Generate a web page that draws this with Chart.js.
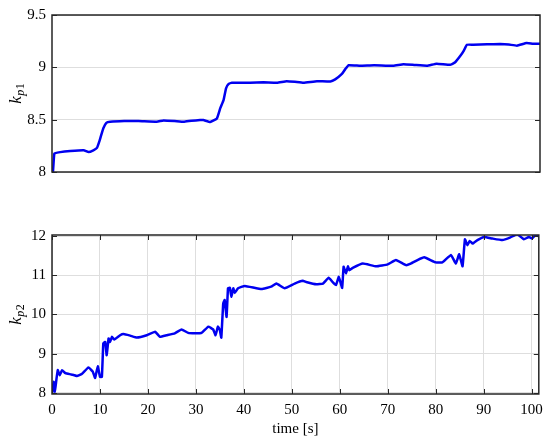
<!DOCTYPE html>
<html>
<head>
<meta charset="utf-8">
<script src="https://cdn.jsdelivr.net/npm/chart.js@4/dist/chart.umd.min.js"></script>
<style>
html, body { margin: 0; padding: 0; background: #fff; }
#wrap { position: relative; width: 550px; height: 441px; }
#topChart { position: absolute; left: 0; top: 0; }
#bottomChart { position: absolute; left: 0; top: 220px; }
</style>
</head>
<body>
<div id="wrap">
  <canvas id="topChart" width="550" height="190"></canvas>
  <canvas id="bottomChart" width="550" height="221"></canvas>
</div>
<script>
// top panel: k_p1
const t1 = [0, 0.2, 0.5, 1.7, 3.8, 6.6, 7.6, 8.6, 9.35, 9.9, 10.2, 10.7, 11.3, 12.1, 15, 18, 21.8, 23.2, 25.5, 27.4, 29, 30.8, 31.5, 32.9, 34.3, 35, 35.7, 36.2, 36.7, 37.4, 41.2, 44, 46.8, 48.8, 50.5, 52.3, 55.1, 57.9, 58.9, 60.3, 61, 61.7, 64.1, 67, 71, 73.1, 75.5, 78, 80, 82.8, 83.8, 84.9, 85.6, 86.3, 87.6, 90.5, 93.2, 95, 96.7, 98.7, 100, 101.5];
const kp1 = [8.0, 8.0, 8.177, 8.19, 8.2, 8.207, 8.19, 8.207, 8.23, 8.3, 8.347, 8.42, 8.47, 8.48, 8.487, 8.487, 8.48, 8.493, 8.487, 8.48, 8.49, 8.496, 8.496, 8.478, 8.512, 8.61, 8.69, 8.8, 8.84, 8.853, 8.853, 8.857, 8.853, 8.868, 8.862, 8.853, 8.868, 8.865, 8.885, 8.937, 8.983, 9.02, 9.015, 9.02, 9.015, 9.03, 9.022, 9.015, 9.035, 9.024, 9.046, 9.108, 9.155, 9.216, 9.216, 9.22, 9.222, 9.218, 9.207, 9.232, 9.226, 9.225];

// bottom panel: k_p2
const t2 = [0, 0.35, 0.6, 0.9, 1.2, 1.6, 2.1, 2.8, 4, 5.2, 6.2, 7.6, 8.5, 9, 9.55, 10, 10.4, 10.7, 11.1, 11.4, 11.8, 12.1, 12.5, 12.95, 14.2, 14.9, 16.3, 17.7, 19.75, 21.5, 22.5, 23.9, 25.6, 27, 28.4, 29.8, 31.2, 32.6, 33.6, 34.1, 34.6, 35, 35.3, 35.7, 36, 36.4, 36.7, 37.1, 37.4, 37.8, 38.1, 38.8, 40.2, 43.7, 45.7, 46.8, 48.5, 50.6, 52.3, 53, 55.1, 56.5, 57.7, 58.5, 59.2, 59.8, 60.5, 60.8, 61.3, 61.7, 62, 62.7, 64.8, 67.6, 70, 71.7, 73.8, 74.8, 76.2, 77.6, 80, 81.4, 83.2, 84.2, 84.9, 85.6, 86.1, 86.6, 87.1, 87.7, 88.7, 90.1, 91.8, 93.9, 95.6, 97, 98.4, 99.4, 100.1, 100.8, 101.5];
const kp2 = [7.98, 8.28, 8.03, 8.32, 8.58, 8.45, 8.58, 8.5, 8.47, 8.43, 8.48, 8.65, 8.54, 8.38, 8.68, 8.41, 8.41, 9.26, 9.3, 8.96, 9.39, 9.3, 9.43, 9.36, 9.47, 9.5, 9.46, 9.41, 9.47, 9.56, 9.43, 9.47, 9.52, 9.62, 9.53, 9.52, 9.53, 9.69, 9.62, 9.47, 9.69, 9.6, 9.41, 10.28, 10.37, 9.94, 10.67, 10.68, 10.45, 10.67, 10.55, 10.67, 10.73, 10.65, 10.71, 10.79, 10.67, 10.79, 10.86, 10.83, 10.77, 10.79, 10.94, 10.83, 10.75, 10.96, 10.68, 11.22, 11.05, 11.23, 11.13, 11.19, 11.3, 11.23, 11.28, 11.39, 11.26, 11.3, 11.39, 11.46, 11.33, 11.33, 11.52, 11.3, 11.54, 11.23, 11.92, 11.77, 11.88, 11.81, 11.9, 11.98, 11.94, 11.9, 11.97, 12.05, 11.92, 11.98, 11.94, 12.03, 12.0];

const xTicks = [0, 10, 20, 30, 40, 50, 60, 70, 80, 90, 100];
const yTicks1 = [8, 8.5, 9, 9.5];
const yTicks2 = [8, 9, 10, 11, 12];

const serif = '"Liberation Serif", "DejaVu Serif", serif';
const gridGray = '#dedede';
const frameColor = '#262626';

function toPoints(xs, ys) {
    return xs.map((x, i) => ({ x: x, y: ys[i] }));
}

// box around the plot, inward ticks on every side, and the k_p label
const frame = {
    id: 'frame',
    afterDatasetsDraw(chart, args, opts) {
        const ctx = chart.ctx;
        const a = chart.chartArea;
        const sx = chart.scales.x;
        const sy = chart.scales.y;
        const len = 5;
        ctx.save();
        ctx.strokeStyle = frameColor;
        ctx.lineWidth = 1;
        ctx.beginPath();
        sy.ticks.forEach(t => {
            const p = Math.round(sy.getPixelForValue(t.value)) + 0.5;
            ctx.moveTo(a.left, p); ctx.lineTo(a.left + len, p);
            ctx.moveTo(a.right, p); ctx.lineTo(a.right - len, p);
        });
        if (opts.xTicks) {
            sx.ticks.forEach(t => {
                const p = Math.round(sx.getPixelForValue(t.value)) + 0.5;
                ctx.moveTo(p, a.top); ctx.lineTo(p, a.top + len);
                ctx.moveTo(p, a.bottom); ctx.lineTo(p, a.bottom - len);
            });
        }
        ctx.stroke();
        ctx.lineWidth = 1.5;
        ctx.strokeRect(a.left, a.top, a.right - a.left, a.bottom - a.top);

        // rotated y label with subscript
        const cy = (a.top + a.bottom) / 2;
        ctx.translate(17, cy);
        ctx.rotate(-Math.PI / 2);
        ctx.fillStyle = '#000';
        ctx.textBaseline = 'alphabetic';
        ctx.font = 'italic 17px ' + serif;
        const wk = ctx.measureText('k').width;
        ctx.font = 'italic 12px ' + serif;
        const wp = ctx.measureText('p').width;
        ctx.font = '12px ' + serif;
        const w1 = ctx.measureText(opts.sub).width;
        let x = -(wk + wp + w1 + 1) / 2;
        ctx.font = 'italic 17px ' + serif;
        ctx.fillText('k', x, 4);
        x += wk + 0.5;
        ctx.font = 'italic 12px ' + serif;
        ctx.fillText('p', x, 7);
        x += wp + 0.5;
        ctx.font = '12px ' + serif;
        ctx.fillText(opts.sub, x, 7);
        ctx.restore();
    }
};

function lineDataset(xs, ys) {
    return {
        data: toPoints(xs, ys),
        borderColor: '#0000f0',
        borderWidth: 2.5,
        pointRadius: 0,
        tension: 0.1,
        fill: false
    };
}

const tickFont = { family: serif, size: 15 };

new Chart(document.getElementById('topChart'), {
    type: 'line',
    data: { datasets: [lineDataset(t1, kp1)] },
    options: {
        responsive: false,
        animation: false,
        layout: { padding: { top: 11, right: 10, bottom: 18, left: 0 } },
        plugins: {
            legend: { display: false },
            tooltip: { enabled: false },
            frame: { xTicks: false, sub: '1' }
        },
        scales: {
            x: { type: 'linear', min: 0, max: 101.5, display: false },
            y: {
                min: 8, max: 9.5,
                afterBuildTicks: s => { s.ticks = yTicks1.map(v => ({ value: v })); },
                afterFit: s => { s.width = 52; },
                grid: { color: gridGray, drawTicks: false },
                border: { display: false },
                ticks: {
                    padding: 6, color: '#000',
                    font: tickFont,
                    callback: v => String(v)
                }
            }
        }
    },
    plugins: [frame]
});

new Chart(document.getElementById('bottomChart'), {
    type: 'line',
    data: { datasets: [lineDataset(t2, kp2)] },
    options: {
        responsive: false,
        animation: false,
        layout: { padding: { top: 15, right: 10, bottom: 0, left: 0 } },
        plugins: {
            legend: { display: false },
            tooltip: { enabled: false },
            frame: { xTicks: true, sub: '2' }
        },
        scales: {
            x: {
                type: 'linear', min: 0, max: 101.5,
                afterBuildTicks: s => { s.ticks = xTicks.map(v => ({ value: v })); },
                afterFit: s => { s.height = 47; },
                grid: { color: gridGray, drawTicks: false },
                border: { display: false },
                ticks: {
                    padding: 7, color: '#000', maxRotation: 0,
                    font: tickFont,
                    callback: v => String(v)
                },
                title: {
                    display: true, text: 'time [s]', color: '#000',
                    font: tickFont,
                    padding: { top: 0, bottom: 3 }
                }
            },
            y: {
                min: 7.97, max: 12.03,
                afterBuildTicks: s => { s.ticks = yTicks2.map(v => ({ value: v })); },
                afterFit: s => { s.width = 52; },
                grid: { color: gridGray, drawTicks: false },
                border: { display: false },
                ticks: {
                    padding: 6, color: '#000',
                    font: tickFont,
                    callback: v => String(v)
                }
            }
        }
    },
    plugins: [frame]
});
</script>
</body>
</html>
